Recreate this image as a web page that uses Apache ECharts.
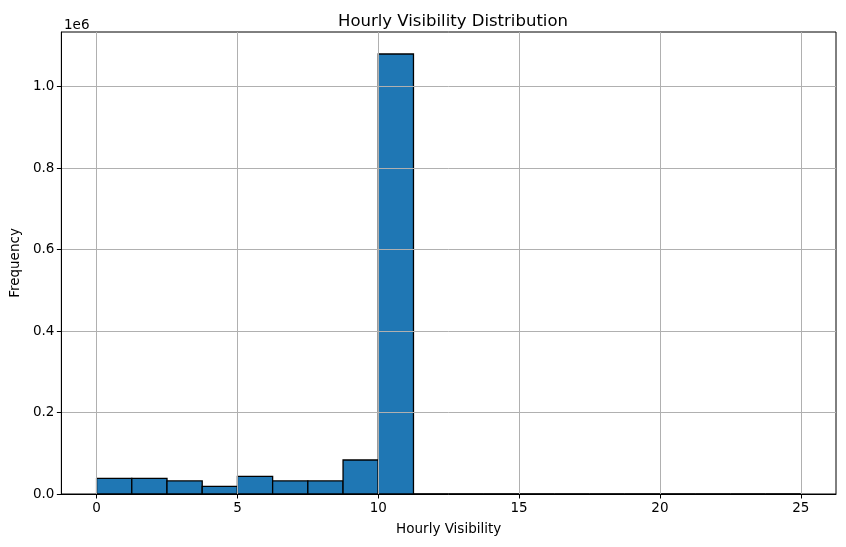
<!DOCTYPE html>
<html>
<head>
<meta charset="utf-8">
<script src="https://cdn.jsdelivr.net/npm/echarts@6/dist/echarts.min.js"></script>
<style>
  html, body { margin: 0; padding: 0; background: #fff; }
  #chart { width: 846px; height: 547px; }
</style>
</head>
<body>
<div id="chart"></div>
<script>
// histogram bins (20 bins, width 1.25) and counts
var binStart = [0, 1.25, 2.5, 3.75, 5, 6.25, 7.5, 8.75, 10, 11.25, 12.5, 13.75, 15, 16.25, 17.5, 18.75, 20, 21.25, 22.5, 23.75]
var binWidth = 1.25
var counts = [38500, 38500, 32000, 18800, 43400, 32000, 32000, 83500, 1080000, 0, 0, 0, 0, 0, 0, 0, 0, 0, 0, 0]
var xTicks = [0, 5, 10, 15, 20, 25]
var yTicks = [0, 200000, 400000, 600000, 800000, 1000000]

var font = 'DejaVu Sans'
var histData = binStart.map(function (s, i) { return [s, s + binWidth, counts[i]] })

var chart = echarts.init(document.getElementById('chart'))
chart.setOption({
    animation: false,
    textStyle: { fontFamily: font },
    title: [
        {
            text: 'Hourly Visibility Distribution',
            left: 448,
            top: 8,
            textAlign: 'center',
            textStyle: { fontFamily: font, fontSize: 16.5, fontWeight: 'normal', color: '#000' }
        },
        {
            text: '1e6',
            left: 59,
            top: 13,
            textStyle: { fontFamily: font, fontSize: 13.5, fontWeight: 'normal', color: '#000' }
        }
    ],
    grid: {
        left: 61,
        right: 10,
        top: 32,
        bottom: 53,
        show: true,
        borderColor: '#000',
        borderWidth: 1,
        backgroundColor: '#fff'
    },
    xAxis: {
        type: 'value',
        min: -1.25,
        max: 26.25,
        z: 5,
        name: 'Hourly Visibility',
        nameLocation: 'middle',
        nameGap: 28,
        nameTextStyle: { fontFamily: font, fontSize: 13.5, color: '#000' },
        axisLine: { show: true, onZero: false, lineStyle: { color: '#000', width: 1 } },
        axisTick: { show: true, length: 4.5, customValues: xTicks, lineStyle: { color: '#000' } },
        axisLabel: { customValues: xTicks, margin: 7, fontFamily: font, fontSize: 13.5, color: '#000' },
        splitLine: { show: true, lineStyle: { color: '#b0b0b0', width: 1 } }
    },
    yAxis: {
        type: 'value',
        min: 0,
        max: 1134000,
        z: 5,
        name: 'Frequency',
        nameLocation: 'middle',
        nameGap: 39,
        nameTextStyle: { fontFamily: font, fontSize: 13.5, color: '#000' },
        axisLine: { show: true, onZero: false, lineStyle: { color: '#000', width: 1 } },
        axisTick: { show: true, length: 4.5, customValues: yTicks, lineStyle: { color: '#000' } },
        axisLabel: {
            customValues: yTicks,
            margin: 7,
            fontFamily: font,
            fontSize: 13.5,
            color: '#000',
            formatter: function (v) { return (v / 1000000).toFixed(1) }
        },
        splitLine: { show: true, lineStyle: { color: '#b0b0b0', width: 1 } }
    },
    series: [
        {
            type: 'custom',
            z: 2,
            encode: { x: [0, 1], y: 2 },
            data: histData,
            renderItem: function (params, api) {
                var p0 = api.coord([api.value(0), api.value(2)])
                var p1 = api.coord([api.value(1), 0])
                return {
                    type: 'rect',
                    shape: { x: p0[0], y: p0[1], width: p1[0] - p0[0], height: p1[1] - p0[1] },
                    style: { fill: '#1f77b4', stroke: '#000', lineWidth: 1.3 }
                }
            }
        }
    ]
})
</script>
</body>
</html>
